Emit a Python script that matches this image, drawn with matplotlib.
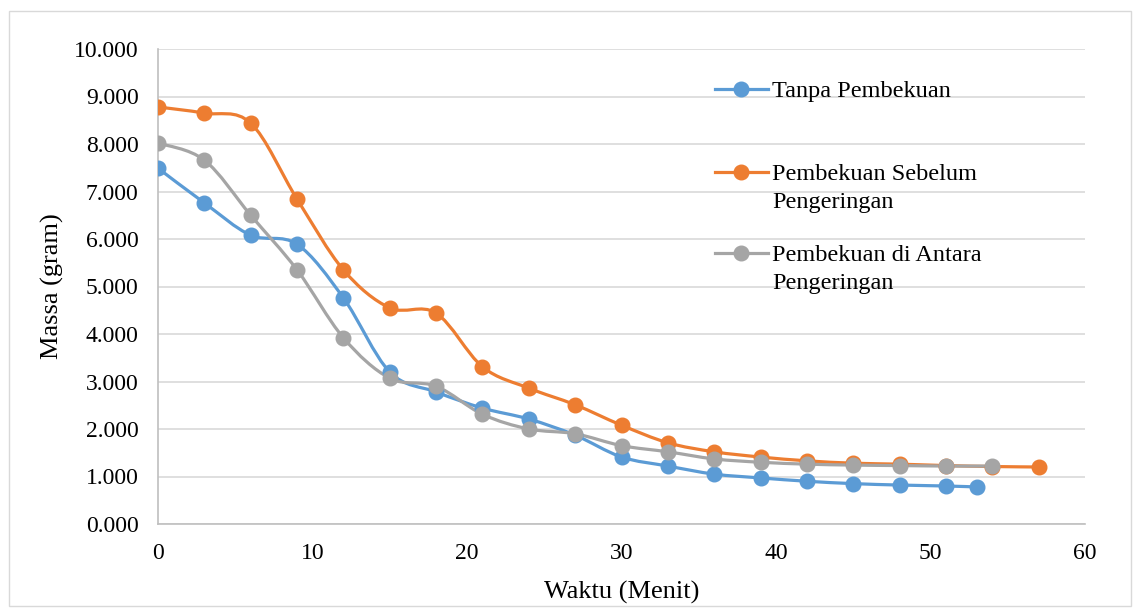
import numpy as np
import matplotlib
matplotlib.use("Agg")
import matplotlib.pyplot as plt
from matplotlib.path import Path
from matplotlib.patches import PathPatch, Rectangle
from matplotlib.lines import Line2D

plt.rcParams['font.family'] = ['Liberation Serif', 'DejaVu Serif']

# data (minutes, grams)
t_tanpa = [0, 3, 6, 9, 12, 15, 18, 21, 24, 27, 30, 33, 36, 39, 42, 45, 48, 51, 53]
m_tanpa = [7.49, 6.76, 6.08, 5.89, 4.76, 3.20, 2.78, 2.44, 2.21, 1.87, 1.41, 1.22,
           1.05, 0.97, 0.90, 0.85, 0.82, 0.80, 0.78]

t_sebelum = [0, 3, 6, 9, 12, 15, 18, 21, 24, 27, 30, 33, 36, 39, 42, 45, 48, 51, 54, 57]
m_sebelum = [8.78, 8.65, 8.44, 6.84, 5.35, 4.55, 4.44, 3.31, 2.86, 2.51, 2.08, 1.71,
             1.52, 1.41, 1.33, 1.28, 1.26, 1.23, 1.21, 1.20]

t_antara = [0, 3, 6, 9, 12, 15, 18, 21, 24, 27, 30, 33, 36, 39, 42, 45, 48, 51, 54]
m_antara = [8.02, 7.66, 6.50, 5.35, 3.92, 3.07, 2.90, 2.31, 2.00, 1.90, 1.65, 1.52,
            1.37, 1.30, 1.26, 1.24, 1.23, 1.22, 1.22]

labels = ["Tanpa Pembekuan", "Pembekuan Sebelum\nPengeringan",
          "Pembekuan di Antara\nPengeringan"]
colors = ["#5B9BD5", "#ED7D31", "#A5A5A5"]
series = [(t_tanpa, m_tanpa), (t_sebelum, m_sebelum), (t_antara, m_antara)]


def smooth_path(x, y):
    # Excel-like smoothed line: cubic bezier through the points
    p = np.column_stack([x, y]).astype(float)
    n = len(p)
    verts = [p[0]]
    codes = [Path.MOVETO]
    for i in range(n - 1):
        p0 = p[i - 1] if i > 0 else p[i]
        p3 = p[i + 2] if i + 2 < n else p[i + 1]
        c1 = p[i] + (p[i + 1] - p0) / 6.0
        c2 = p[i + 1] - (p3 - p[i]) / 6.0
        verts += [c1, c2, p[i + 1]]
        codes += [Path.CURVE4] * 3
    return Path(verts, codes)


W, H = 1135, 610
fig = plt.figure(figsize=(W / 100, H / 100), dpi=100)
fig.patches.append(Rectangle((9 / W, 1 - 606 / H), 1122 / W, 595 / H,
                             transform=fig.transFigure, fill=False,
                             edgecolor="#D9D9D9", lw=1))

ax = fig.add_axes([158 / W, 1 - 524 / H, (1085 - 158) / W, (524 - 49) / H])

for (tx, my), c in zip(series, colors):
    ax.add_patch(PathPatch(smooth_path(tx, my), fill=False, edgecolor=c,
                           lw=2.3, capstyle='round', joinstyle='round', zorder=3))
    ax.plot(tx, my, ls='none', marker='o', ms=10.5, color=c, zorder=4)

ax.set_xlim(0, 60)
ax.set_ylim(0, 10)
ax.set_xticks(range(0, 61, 10))
ax.set_yticks(range(0, 11))
ax.set_yticklabels([f"{v}.000" for v in range(0, 11)])
ax.yaxis.grid(True, color="#D9D9D9", lw=1.2)
ax.set_axisbelow(True)
ax.tick_params(length=0, labelsize=17, colors="black", pad=14)
for s in ['top', 'right']:
    ax.spines[s].set_visible(False)
for s in ['left', 'bottom']:
    ax.spines[s].set_color("#BFBFBF")
    ax.spines[s].set_linewidth(1.2)

ax.set_xlabel("Waktu (Menit)", fontsize=19, va='center')
ax.xaxis.set_label_coords(0.5, (524 - 592) / 475)
ax.set_ylabel("Massa (gram)", fontsize=19, va='center')
ax.yaxis.set_label_coords((52 - 158) / 927, 0.5)

# legend drawn by hand to match the spacing
leg_y = [89, 172, 253]
for lab, c, yy in zip(labels, colors, leg_y):
    fy = 1 - yy / H
    fig.add_artist(Line2D([715 / W, 768 / W], [fy, fy], color=c, lw=2.3,
                          transform=fig.transFigure))
    fig.add_artist(Line2D([741 / W], [fy], color=c, marker='o', ms=10.5,
                          transform=fig.transFigure))
    for k, line in enumerate(lab.split("\n")):
        fig.text(772 / W, 1 - (yy + k * 28) / H, line, fontsize=17.5,
                 va='center_baseline', ha='left')

fig.savefig("out.png", dpi=100)
